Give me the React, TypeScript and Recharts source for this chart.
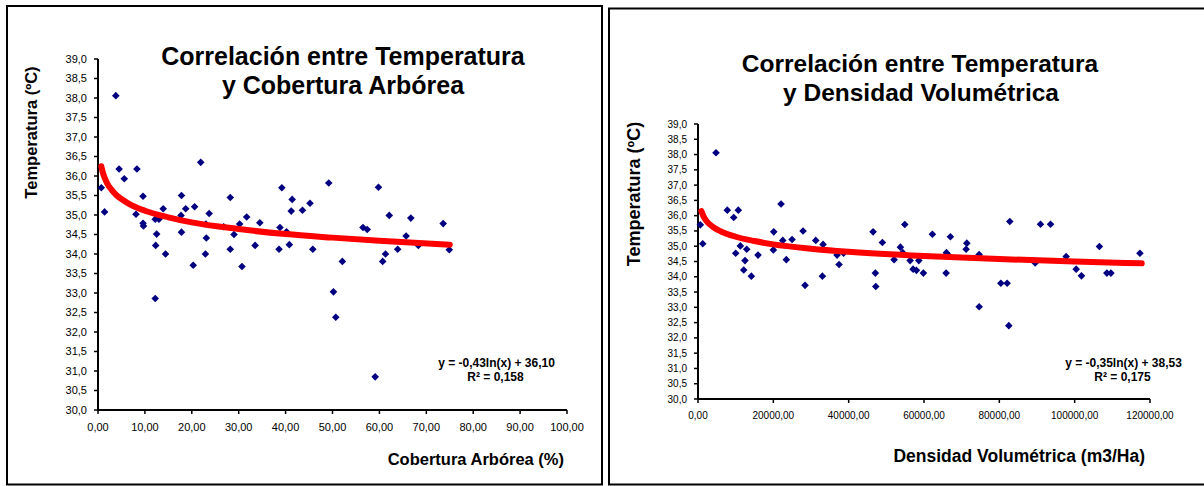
import { Scatter, ScatterChart, XAxis, YAxis } from "recharts";

// Cobertura arbórea (%) vs temperatura (ºC)
const coverPct = [
  0.7, 1.4, 3.8, 4.5, 5.6, 8.3, 8.1, 9.6, 9.6, 9.7, 12.2, 13.0, 12.5, 12.3, 12.2, 14.4,
  13.9, 17.8, 17.7, 17.8, 18.7, 20.6, 20.3, 21.9, 23.7, 23.0, 23.1, 22.9, 26.8, 28.2, 28.2, 29.0,
  30.2, 31.7, 30.7, 33.5, 34.5, 38.8, 39.2, 40.2, 38.6, 40.8, 41.4, 41.2, 43.6, 45.2, 45.8, 49.2,
  50.2, 50.7, 52.1, 56.5, 57.4, 59.1, 59.8, 60.7, 61.3, 62.1, 63.9, 65.7, 66.7, 68.3, 73.6, 74.9
];
const coverTemp = [
  35.7, 35.08, 38.06, 36.18, 35.93, 36.18, 35.02, 35.48, 34.79, 34.72, 34.89, 34.89, 34.51, 34.22, 32.86, 34.0,
  35.16, 35.5, 34.99, 34.56, 35.16, 35.21, 33.71, 36.35, 35.04, 34.77, 34.41, 34.0, 34.7, 35.45, 34.12, 34.5,
  34.77, 34.95, 33.68, 34.22, 34.8, 34.68, 35.7, 34.57, 34.12, 34.24, 35.4, 35.1, 35.12, 35.3, 34.12, 35.82,
  33.03, 32.38, 33.81, 34.68, 34.63, 30.85, 35.71, 33.81, 34.0, 34.99, 34.12, 34.46, 34.92, 34.22, 34.78, 34.11
];
const coverTrendX = [0.7, 1, 1.5, 2, 3, 4, 5, 7, 10, 15, 20, 30, 40, 50, 60, 75];
const coverTrendY = [36.25, 36.1, 35.93, 35.8, 35.63, 35.5, 35.41, 35.26, 35.11, 34.94, 34.81, 34.64, 34.51, 34.42, 34.34, 34.24];

// Densidad volumétrica (m3/Ha) vs temperatura (ºC)
const densVol = [
  610, 1250, 4780, 7780, 9480, 10700, 10010, 11240, 12930, 12480, 12140, 14160, 15940, 20110, 20000, 22050,
  22500, 23450, 24970, 27890, 28420, 31260, 33200, 33020, 36920, 37450, 38650, 46480, 47090, 47200, 48950, 52060,
  53740, 54370, 54900, 56310, 57110, 57990, 58620, 59840, 62230, 65870, 65950, 66670, 67010, 71180, 71370, 74640,
  74640, 80400, 82070, 82520, 82780, 89510, 90930, 93590, 97740, 100400, 101800, 106570, 108550, 109620, 117320
];
const densTemp = [
  35.7, 35.08, 38.06, 36.18, 35.94, 36.18, 34.77, 35.01, 34.9, 34.53, 34.22, 34.02, 34.71, 35.47, 34.88, 36.38,
  35.19, 34.56, 35.22, 35.5, 33.72, 35.19, 35.06, 34.02, 34.71, 34.4, 34.77, 35.47, 34.12, 33.68, 35.12, 34.56,
  34.97, 34.79, 35.71, 34.53, 34.25, 34.21, 34.53, 34.12, 35.39, 34.12, 34.79, 34.69, 35.31, 34.9, 35.1, 34.73,
  33.02, 33.79, 33.79, 32.4, 35.81, 34.45, 35.72, 35.72, 34.66, 34.25, 34.03, 34.99, 34.12, 34.12, 34.77
];
const densTrendX = [900, 1500, 2500, 4000, 6000, 10000, 15000, 20000, 30000, 40000, 60000, 80000, 100000, 117800];
const densTrendY = [36.15, 35.97, 35.79, 35.63, 35.49, 35.31, 35.17, 35.06, 34.92, 34.82, 34.68, 34.58, 34.5, 34.44];

const tempTicks = [30, 30.5, 31, 31.5, 32, 32.5, 33, 33.5, 34, 34.5, 35, 35.5, 36, 36.5, 37, 37.5, 38, 38.5, 39];
const coverTicks = [0, 10, 20, 30, 40, 50, 60, 70, 80, 90, 100];
const densTicks = [0, 20000, 40000, 60000, 80000, 100000, 120000];

const zip = (xs: number[], ys: number[]) => xs.map((x, i) => ({ x, y: ys[i] }));

const FONT = '"Liberation Sans", Arial, sans-serif';
const comma = (v: number, d: number) => v.toFixed(d).replace(".", ",");

const Diamond = (props: any) => {
  const { cx, cy } = props;
  const r = 3.8;
  return <polygon points={`${cx},${cy - r} ${cx + r},${cy} ${cx},${cy + r} ${cx - r},${cy}`} fill="#000080" />;
};
const NoDot = () => <g />;

function Panel({ pts, trend, ticks, domain, fmt, fontSize, w, h, margin }: any) {
  const axis = { stroke: "#000", strokeWidth: 2 };
  return (
    <ScatterChart width={w} height={h} margin={margin}>
      <XAxis
        type="number"
        dataKey="x"
        domain={domain}
        ticks={ticks}
        interval={0}
        height={20}
        tickFormatter={fmt}
        tick={{ fill: "#000", fontSize, fontFamily: FONT }}
        axisLine={axis}
        tickLine={{ stroke: "#000", strokeWidth: 1.5 }}
        tickSize={4}
        tickMargin={9}
      />
      <YAxis
        type="number"
        dataKey="y"
        domain={[30, 39]}
        ticks={tempTicks}
        interval={0}
        width={60}
        tickFormatter={(v: number) => comma(v, 1)}
        tick={{ fill: "#000", fontSize, fontFamily: FONT }}
        axisLine={axis}
        tickLine={{ stroke: "#000", strokeWidth: 1.5 }}
        tickSize={4}
        tickMargin={7}
      />
      <Scatter data={pts} shape={Diamond} isAnimationActive={false} />
      <Scatter
        data={trend}
        shape={NoDot}
        line={{ stroke: "#ff0000", strokeWidth: 6, strokeLinecap: "round" }}
        lineType="joint"
        lineJointType="monotoneX"
        isAnimationActive={false}
      />
    </ScatterChart>
  );
}

export default function App() {
  const bold = { fontFamily: FONT, fontWeight: 700, fill: "#000" } as const;
  return (
    <div style={{ position: "absolute", left: 0, top: 0, width: 1204, height: 486, background: "#fff", overflow: "hidden" }}>
      <div style={{ position: "absolute", left: 8, top: 7 }}>
        <Panel
          pts={zip(coverPct, coverTemp)}
          trend={zip(coverTrendX, coverTrendY)}
          ticks={coverTicks}
          domain={[0, 100]}
          fmt={(v: number) => comma(v, 2)}
          fontSize={11}
          w={593}
          h={476}
          margin={{ top: 52, right: 34, bottom: 53, left: 30 }}
        />
      </div>
      <div style={{ position: "absolute", left: 610, top: 9 }}>
        <Panel
          pts={zip(densVol, densTemp)}
          trend={zip(densTrendX, densTrendY)}
          ticks={densTicks}
          domain={[0, 120000]}
          fmt={(v: number) => comma(v, 2)}
          fontSize={10}
          w={592}
          h={474}
          margin={{ top: 115, right: 52, bottom: 64, left: 28 }}
        />
      </div>
      <svg width={1204} height={486} style={{ position: "absolute", left: 0, top: 0, pointerEvents: "none" }}>
        <rect x={7} y={6} width={595} height={478.5} fill="none" stroke="#000" strokeWidth={2} />
        <rect x={609} y={8.5} width={620} height={476} fill="none" stroke="#000" strokeWidth={2} />

        <text x={343} y={65} textAnchor="middle" fontSize={25} {...bold}>Correlación entre Temperatura</text>
        <text x={343} y={94} textAnchor="middle" fontSize={25} {...bold}>y Cobertura Arbórea</text>
        <text transform="translate(36.5,132.5) rotate(-90)" textAnchor="middle" fontSize={16.5} {...bold}>Temperatura (ºC)</text>
        <text x={564} y={465} textAnchor="end" fontSize={16.5} {...bold}>Cobertura Arbórea (%)</text>
        <text x={496.5} y={367} textAnchor="middle" fontSize={12} {...bold}>y = -0,43ln(x)  + 36,10</text>
        <text x={495.5} y={381} textAnchor="middle" fontSize={12} {...bold}>R² = 0,158</text>

        <text x={920} y={72} textAnchor="middle" fontSize={24.5} {...bold}>Correlación entre Temperatura</text>
        <text x={921} y={101} textAnchor="middle" fontSize={24.5} {...bold}>y Densidad Volumétrica</text>
        <text transform="translate(640,194) rotate(-90)" textAnchor="middle" fontSize={18} {...bold}>Temperatura (ºC)</text>
        <text x={1145} y={462} textAnchor="end" fontSize={17.5} {...bold}>Densidad Volumétrica (m3/Ha)</text>
        <text x={1123.5} y={367} textAnchor="middle" fontSize={12} {...bold}>y = -0,35ln(x)  + 38,53</text>
        <text x={1122.5} y={381} textAnchor="middle" fontSize={12} {...bold}>R² = 0,175</text>
      </svg>
    </div>
  );
}
